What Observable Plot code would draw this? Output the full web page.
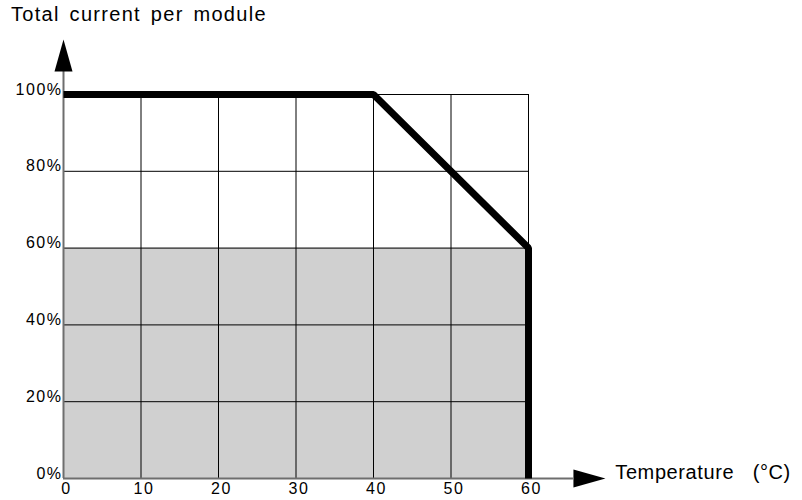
<!DOCTYPE html>
<html>
<head>
<meta charset="utf-8">
<script src="https://cdn.jsdelivr.net/npm/d3@7"></script>
<script src="https://cdn.jsdelivr.net/npm/@observablehq/plot@0.6"></script>
<style>
  html, body { margin: 0; padding: 0; background: #fff; }
  #wrap { position: relative; width: 802px; height: 500px; }
  #title { position: absolute; left: 11px; top: 3px; font-family: "Liberation Sans", Arial, sans-serif;
           font-size: 20px; letter-spacing: 1.3px; word-spacing: 3px; color: #000; }
  svg text { font-family: "Liberation Sans", Arial, sans-serif; }
</style>
</head>
<body>
<div id="wrap">
  <div id="title">Total current per module</div>
</div>
<script>
// ---- data ----
const temperature = [0, 40, 60, 60];          // °C
const currentPct  = [100, 100, 60, 0];        // % of total current per module
const safeLevel   = 60;                       // shaded region upper bound (%)
const xTicks = [0, 10, 20, 30, 40, 50, 60];
const yTicks = [0, 20, 40, 60, 80, 100];
const xLabel = "Temperature\u00a0\u00a0\u00a0(°C)";

const curve = temperature.map((t, i) => ({t, c: currentPct[i]}));
const xMax = d3.max(xTicks), yMax = d3.max(yTicks);

// arrow head symbol (base centred at origin, tip pointing up)
const arrowHead = {
  draw(ctx) { ctx.moveTo(-9, 0); ctx.lineTo(9, 0); ctx.lineTo(0, -32); ctx.closePath(); }
};
const xAxisEnd = 65.8, yAxisEnd = 106;

const chart = Plot.plot({
  width: 802, height: 500,
  marginLeft: 63, marginRight: 274, marginTop: 94, marginBottom: 22,
  x: {domain: [0, xMax], axis: null},
  y: {domain: [0, yMax], axis: null},
  marks: [
    Plot.rect([{x1: 0, x2: xMax, y1: 0, y2: safeLevel}], {x1: "x1", x2: "x2", y1: "y1", y2: "y2", fill: "#d0d0d0"}),
    Plot.ruleX(xTicks.filter(d => d > 0), {y1: 0, y2: yMax, stroke: "#000", strokeWidth: 1}),
    Plot.ruleY(yTicks.filter(d => d > 0), {x1: 0, x2: xMax, stroke: "#000", strokeWidth: 1}),
    Plot.ruleY([0], {x1: 0, x2: xAxisEnd, stroke: "#6e6e6e", strokeWidth: 2}),
    Plot.ruleX([0], {y1: 0, y2: yAxisEnd, stroke: "#6e6e6e", strokeWidth: 2}),
    Plot.dot([0], {x: 0, y: yAxisEnd, symbol: arrowHead, fill: "#000", stroke: null, r: 1}),
    Plot.dot([0], {x: xAxisEnd, y: 0, symbol: arrowHead, fill: "#000", stroke: null, r: 1, rotate: 90}),
    Plot.line(curve, {x: "t", y: "c", stroke: "#000", strokeWidth: 7, strokeLinejoin: "miter", strokeLinecap: "butt"}),
    Plot.text(yTicks, {x: 0, y: d => d, text: d => d + "%", textAnchor: "end", lineAnchor: "bottom",
      dx: -1, fontSize: 16, fill: "#000"}),
    Plot.text(xTicks, {x: d => d, y: 0, text: d => String(d), textAnchor: "middle", lineAnchor: "top",
      dy: 4, dx: 3, fontSize: 16, fill: "#000"}),
    Plot.text([xLabel], {x: 71.2, y: 0, text: d => d, textAnchor: "start", lineAnchor: "bottom",
      fontSize: 20, fill: "#000"})
  ]
});
const textGroups = chart.querySelectorAll('g[aria-label="text"]');
textGroups.forEach((g, i) => {
  const ls = i === textGroups.length - 1 ? "0.6px" : "1.5px";
  g.querySelectorAll("text").forEach(t => t.style.letterSpacing = ls);
});
document.getElementById("wrap").appendChild(chart);
</script>
</body>
</html>
